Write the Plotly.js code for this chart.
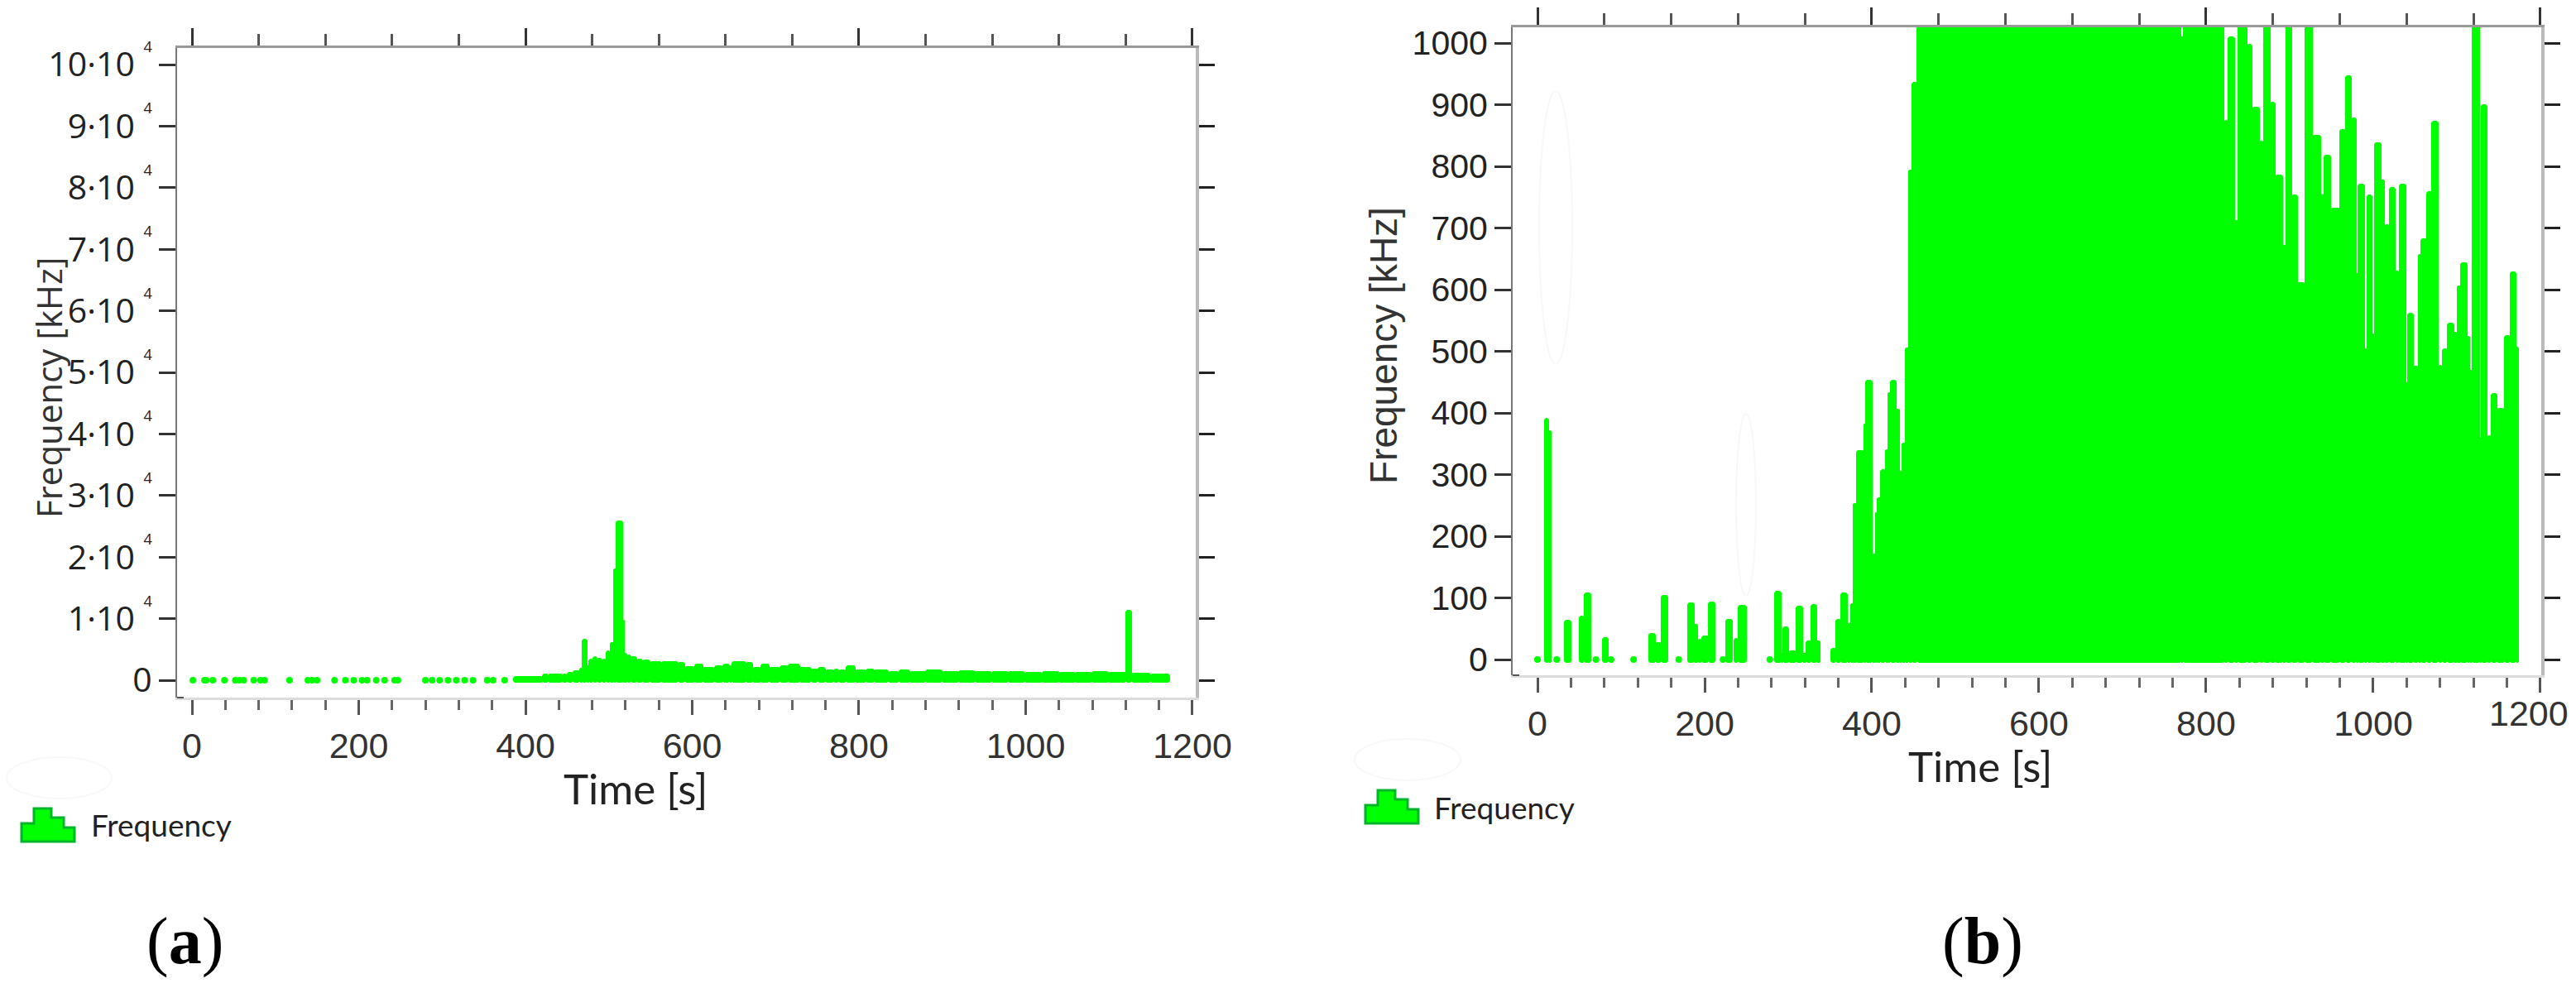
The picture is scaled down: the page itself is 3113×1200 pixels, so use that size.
<!DOCTYPE html>
<html>
<head>
<meta charset="utf-8">
<script src="https://cdn.plot.ly/plotly-3.0.1.min.js"></script>
<style>
	html, body {margin: 0; padding: 0; background: #fff;}
</style>
</head>
<body>
<div id="chart" style="width:3113px;height:1200px;"></div>
<script>
//------------------------ Data (a) -----------------------------------------------------------------------------------
var dotTimeA = [1, 15, 17, 25, 39, 52, 57, 62, 74, 82, 87, 117, 139, 144, 150, 171, 184, 194, 204, 210, 221, 231, 243, 247,
	280, 288, 297, 307, 317, 327, 337, 354, 361, 375];
// bar edges: each value runs from its own time to the next time
var timeA = [386, 421, 428, 445, 451, 458, 465, 468, 474, 476, 481, 486, 492, 497, 502, 506, 509, 517, 519, 522, 527, 534, 541, 550,
	564, 584, 592, 603, 613, 627, 637, 645, 648, 665, 673, 683, 693, 706, 716, 730, 743, 751, 760, 770, 776, 785, 796, 809, 819,
	836, 849, 862, 880, 900, 920, 940, 960, 980, 1000, 1020, 1040, 1060, 1080, 1100, 1121, 1128, 1150, 1173];
var freqA = [500, 940, 900, 940, 1165, 1520, 1840, 6540, 2285, 3315, 3720, 3495, 3300, 4750, 6090, 17965, 25800, 9680, 4300, 4075, 3800, 3315, 3180, 3000,
	2950, 2870, 2195, 2600, 2060, 2285, 2510, 2285, 2960, 2870, 2060, 2510, 1970, 2285, 2510, 1970, 1700, 1970, 1610, 1700, 1610, 2285, 1610, 1700, 1610,
	1300, 1610, 1390, 1650, 1400, 1500, 1300, 1400, 1350, 1250, 1300, 1200, 1150, 1300, 1150, 11300, 1100, 900];

//------------------------ Data (b) -----------------------------------------------------------------------------------
var dotTimeB = [0, 23, 70, 88, 115, 169, 222, 278, 298, 306];
var timeB = [8.6, 14, 17, 33, 41, 50, 56, 64, 78, 85, 134, 142, 149, 156, 180, 188, 192, 197, 205, 213, 226, 234, 236, 241, 250,
	284, 292, 294, 301, 310, 318, 322, 328, 335, 339, 351, 357, 363, 371, 375, 378, 382, 391, 393, 401, 405, 407, 411, 417, 420, 423, 430, 434, 437, 441, 445, 449, 454,
	770, 773, 822, 827, 835, 839, 850, 855, 864, 869, 877, 883, 892, 896, 903, 910, 919, 928, 938, 942, 950, 960, 967, 974, 980, 982, 990, 993, 999, 1002, 1010,
	1014, 1020, 1027, 1032, 1040, 1042, 1049, 1054, 1057, 1064, 1070, 1078, 1083, 1089, 1097, 1101, 1105, 1113, 1116, 1119, 1128, 1130, 1137, 1142, 1149, 1157, 1164, 1171, 1174];
var freqB = [390, 370, null, 63, null, 70, 107, null, 35, null, 42, 27, 103, null, 91, 56, 32, 37, 93, null, 64, null, 33, 87, null,
	110, 10, 52, 14, 86, 10, 29, 89, 30, null, 18, 64, 107, 58, 90, 253, 338, 381, 452, 170, 237, 262, 307, 340, 432, 452, 405, 305, 351, 505, 793, 936, 1040,
	1010, 1040, 874, 1010, 712, 1040, 997, 895, 840, 1040, 903, 785, 671, 1040, 753, 611, 1040, 850, 753, 818, 732, 859, 946, 878, 626, 770, 503, 753, 527, 837, 777,
	705, 765, 630, 770, 448, 561, 475, 657, 682, 758, 873, 477, 503, 545, 530, 606, 643, 523, 468, 1040, 359, 899, 362, 431, 407, 525, 628, 506];

var xtickVals = [0, 200, 400, 600, 800, 1000, 1200];
var xtickTextA = ['0', '200', '400', '600', '800', '1000', '1200'];
var xtickTextB = ['0', '200', '400', '600', '800', '1000', ''];   // 1200 of (b) sits left of its tick, see annotations
var ytickValsA = [0, 10000, 20000, 30000, 40000, 50000, 60000, 70000, 80000, 90000, 100000];
var ytickTextA = ['0', '1·10', '2·10', '3·10', '4·10', '5·10', '6·10', '7·10', '8·10', '9·10', '10·10'];
var ytickValsB = [0, 100, 200, 300, 400, 500, 600, 700, 800, 900, 1000];

//------------------------ Helpers ------------------------------------------------------------------------------------
var W = 3113, H = 1200;
var GREEN = '#00ff00';
function px(x){ return x / W; }
function py(y){ return 1 - y / H; }

function barTrace(times, values, below, xa, ya){
	return {
		type: 'bar', xaxis: xa, yaxis: ya, name: 'Frequency', showlegend: false,
		x: times.slice(0, -1),
		y: values.map(function(v){ return v === null ? null : v + below; }),
		base: -below,
		offset: 0,
		width: times.slice(0, -1).map(function(t, i){ return times[i + 1] - t; }),
		marker: {color: GREEN, line: {color: GREEN, width: 1}, cornerradius: 3}
	};
}

function dotTrace(times, size, xa, ya){
	return {
		type: 'scatter', mode: 'markers', xaxis: xa, yaxis: ya, showlegend: false,
		x: times,
		y: times.map(function(){ return 0; }),
		marker: {color: GREEN, size: size}
	};
}

// the top and right axes only show up when a trace sits on them
function frameTrace(xa, ya){
	return {type: 'scatter', mode: 'lines', xaxis: xa, yaxis: ya, showlegend: false, hoverinfo: 'skip', x: [null], y: [null]};
}

function label(text, x, y, size, family, color, angle){
	return {
		text: text, xref: 'paper', yref: 'paper', x: px(x), y: py(y), xanchor: 'center', yanchor: 'middle',
		showarrow: false, textangle: angle || 0, font: {size: size, family: family, color: color}
	};
}

function legendIcon(x0, y0){
	var pts = [[0, 18], [15, 18], [15, 0], [36, 0], [36, 11], [51, 11], [51, 23], [64, 23], [64, 40], [0, 40]];
	var d = pts.map(function(p, i){ return (i ? 'L' : 'M') + px(x0 + p[0]) + ',' + py(y0 + p[1]); }).join(' ') + ' Z';
	return {type: 'path', xref: 'paper', yref: 'paper', path: d, fillcolor: GREEN, line: {color: '#00b52a', width: 3}};
}

function ghost(x0, y0, x1, y1){
	return {type: 'circle', xref: 'paper', yref: 'paper', x0: px(x0), y0: py(y0), x1: px(x1), y1: py(y1), line: {color: '#f8f8f8', width: 2}};
}

function cornerStub(x0, x1, y){
	return {type: 'line', xref: 'paper', yref: 'paper', x0: px(x0), y0: py(y), x1: px(x1), y1: py(y), line: {color: '#555', width: 2}};
}

function bottomAxis(x0, x1, range, anchor, text){
	return {
		domain: [px(x0), px(x1)], range: range, anchor: anchor, side: 'bottom',
		tickmode: 'array', tickvals: xtickVals, ticktext: text, ticks: 'outside', ticklen: 18, tickwidth: 3, tickcolor: '#555',
		minor: {tick0: 0, dtick: 40, ticks: 'outside', ticklen: 12, tickwidth: 3, tickcolor: '#666'},
		showgrid: false, zeroline: false, showline: true, linecolor: '#dcdcdc', linewidth: 3,
		ticklabeloverflow: 'allow',
		tickfont: {size: 43, family: 'Liberation Sans', color: '#333'}
	};
}

function topAxis(x0, x1, range, anchor, over){
	return {
		domain: [px(x0), px(x1)], range: range, anchor: anchor, overlaying: over, side: 'top',
		tick0: 0, dtick: 400, ticks: 'outside', ticklen: 21, tickwidth: 3, tickcolor: '#333',
		minor: {dtick: 80, ticks: 'outside', ticklen: 14, tickwidth: 3, tickcolor: '#555'},
		showgrid: false, zeroline: false, showline: true, linecolor: '#999', linewidth: 3, showticklabels: false
	};
}

function leftAxis(y0, y1, range, anchor, vals, text, family){
	return {
		domain: [py(y1), py(y0)], range: range, anchor: anchor, side: 'left',
		tickmode: 'array', tickvals: vals, ticktext: text, ticks: 'outside', ticklen: 20, tickwidth: 3, tickcolor: '#333',
		showgrid: false, zeroline: false, showline: true, linecolor: '#777', linewidth: 2,
		tickfont: {size: 41, family: family, color: '#222'}
	};
}

function rightAxis(y0, y1, range, anchor, over, vals){
	return {
		domain: [py(y1), py(y0)], range: range, anchor: anchor, overlaying: over, side: 'right',
		tickmode: 'array', tickvals: vals, ticks: 'outside', ticklen: 19, tickwidth: 3, tickcolor: '#222',
		showgrid: false, zeroline: false, showline: true, linecolor: '#bbb', linewidth: 4, showticklabels: false
	};
}

//------------------------ Render ---------------------------------------------------------------------------------------
var supFour = ' <sup><sup><span style="font-size:18px">4</span></sup></sup>';
var ytickLabelsA = ytickTextA.map(function(t, i){ return i ? t + supFour : t; });

var rangeXA = [-17.9, 1204], rangeYA = [-2823, 102688];
var rangeXB = [-29.7, 1201], rangeYB = [-25.5, 1025.5];

var data = [
	barTrace(timeA, freqA, 400, 'x', 'y'),
	dotTrace(dotTimeA, 8, 'x', 'y'),
	frameTrace('x3', 'y3'),
	barTrace(timeB, freqB, 6, 'x2', 'y2'),
	dotTrace(dotTimeB, 8, 'x2', 'y2'),
	frameTrace('x4', 'y4')
];

var layout = {
	width: W, height: H,
	margin: {l: 0, r: 0, t: 0, b: 0},
	paper_bgcolor: '#fff', plot_bgcolor: '#fff',
	showlegend: false,
	bargap: 0,
	barmode: 'overlay',

	xaxis: bottomAxis(214, 1445, rangeXA, 'y', xtickTextA),
	yaxis: leftAxis(58, 843, rangeYA, 'x', ytickValsA, ytickLabelsA, 'Open Sans'),
	xaxis3: topAxis(214, 1445, rangeXA, 'y3', 'x'),
	yaxis3: rightAxis(58, 843, rangeYA, 'x3', 'y', ytickValsA),

	xaxis2: bottomAxis(1828, 3071, rangeXB, 'y2', xtickTextB),
	yaxis2: leftAxis(33, 816, rangeYB, 'x2', ytickValsB, ytickValsB.map(String), 'Liberation Sans'),
	xaxis4: topAxis(1828, 3071, rangeXB, 'y4', 'x2'),
	yaxis4: rightAxis(33, 816, rangeYB, 'x4', 'y2', ytickValsB),

	annotations: [
		label('Time [s]', 768, 952, 51, 'Lato', '#222'),
		label('Frequency [kHz]', 58, 468, 42, 'Open Sans', '#333', -90),
		label('Frequency', 195, 996, 37, 'Lato', '#222'),
		label('(<b>a</b>)', 224, 1137, 80, 'Liberation Serif', '#000'),

		label('Time [s]', 2393, 926, 51, 'Lato', '#222'),
		label('Frequency [kHz]', 1672, 418, 46, 'Liberation Sans', '#333', -90),
		label('Frequency', 1818, 975, 37, 'Lato', '#222'),
		label('(<b>b</b>)', 2396, 1137, 80, 'Liberation Serif', '#000'),
		label('1200', 3056, 862, 43, 'Liberation Sans', '#333')
	],

	shapes: [
		legendIcon(26, 977),
		legendIcon(1650, 955),
		cornerStub(214, 222, 843),
		cornerStub(1828, 1836, 816),
		ghost(8, 915, 135, 965),
		ghost(1637, 893, 1765, 943),
		ghost(1860, 110, 1900, 440),
		ghost(2098, 500, 2122, 720)
	]
};

Plotly.newPlot('chart', data, layout, {displayModeBar: false, responsive: false});
</script>
</body>
</html>
